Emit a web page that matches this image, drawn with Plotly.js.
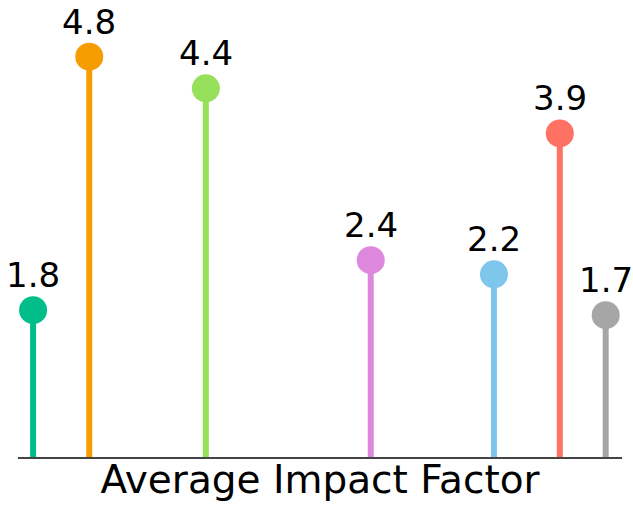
<!DOCTYPE html>
<html>
<head>
<meta charset="utf-8">
<script src="https://cdn.plot.ly/plotly-3.0.1.min.js"></script>
<style>html,body{margin:0;padding:0;background:#fff;}#chart{width:633px;height:511px;}</style>
</head>
<body>
<div id="chart"></div>
<script>
// Data
const positions = [2.5, 11.8, 31.1, 58.4, 78.8, 89.7, 97.3];
const values = [1.76, 4.8, 4.42, 2.36, 2.19, 3.88, 1.7];
const colors = ['#00BD8A', '#F59D00', '#97E05C', '#DD88DD', '#7FC6EC', '#FF7162', '#A6A6A6'];
const xTitle = 'Average Impact Factor';

const traces = positions.map((p, i) => ({
  type: 'scatter',
  mode: 'markers',
  x: [p],
  y: [values[i]],
  marker: {size: 28, color: colors[i]},
  error_y: {type: 'data', symmetric: false, array: [0], arrayminus: [values[i]], color: colors[i], thickness: 6, width: 0},
  cliponaxis: false,
  hoverinfo: 'skip',
  showlegend: false
}));

const annotations = positions.map((p, i) => ({
  x: p, y: values[i], xref: 'x', yref: 'y',
  text: values[i].toFixed(1),
  showarrow: false,
  xanchor: 'center', yanchor: 'bottom', yshift: 13,
  font: {family: '"DejaVu Sans", sans-serif', size: 34, color: '#000'}
}));

Plotly.newPlot('chart', traces, {
  width: 633, height: 511,
  margin: {l: 18, r: 11, t: 40, b: 54},
  paper_bgcolor: '#fff', plot_bgcolor: '#fff',
  annotations: annotations,
  xaxis: {range: [0, 100], showgrid: false, zeroline: false, showticklabels: false, ticks: '',
    showline: true, linecolor: '#444', linewidth: 1.5,
    title: {text: xTitle, font: {family: '"DejaVu Sans", sans-serif', size: 39, color: '#000'}, standoff: 8}},
  yaxis: {range: [0, 5.0], showgrid: false, zeroline: false, showticklabels: false, ticks: '', showline: false},
  showlegend: false
}, {displayModeBar: false, staticPlot: true});
</script>
</body>
</html>
